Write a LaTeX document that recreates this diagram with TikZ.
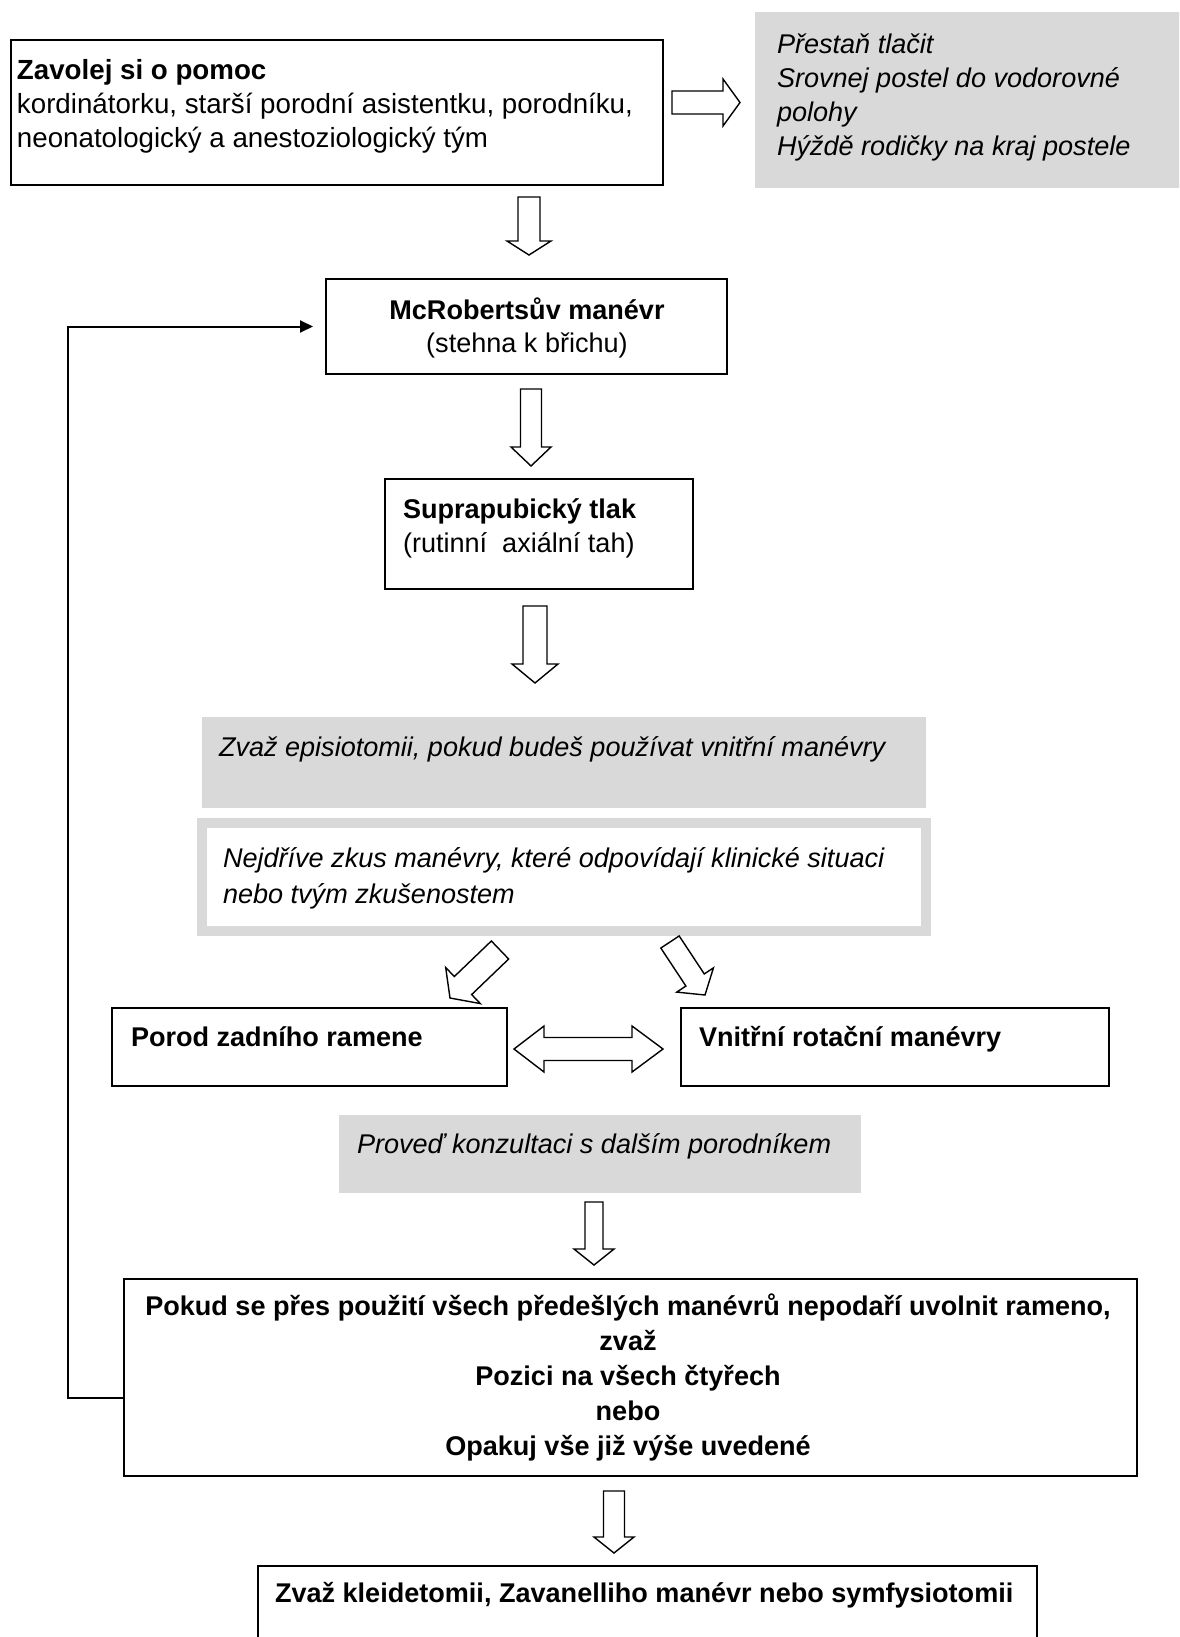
\documentclass[tikz,border=0pt]{standalone}
\usepackage{fontspec}
\setmainfont{Liberation Sans}
\usetikzlibrary{arrows.meta,calc}
\definecolor{shade}{HTML}{D9D9D9}
\tikzset{
  box/.style={draw=black, line width=1pt, fill=white, inner sep=0pt, outer sep=0pt, anchor=north west},
  graybox/.style={fill=shade, draw=none, inner sep=0pt, outer sep=0pt, anchor=north west},
  framebox/.style={draw=shade, line width=5pt, fill=white, inner sep=0pt, outer sep=0pt, anchor=north west},
  txt/.style={inner sep=0pt, outer sep=0pt, anchor=base west},
  ctxt/.style={inner sep=0pt, outer sep=0pt, anchor=base},
  blk/.style={draw=black, line width=0.7pt, fill=white, line join=miter},
  loopline/.style={draw=black, line width=1pt, -{Triangle[length=6.5pt,width=6pt]}},
}
\newcommand\fs{\fontsize{13.53pt}{16.75pt}\selectfont}
\newcommand\blockarrow[6]{%
  \coordinate (#1-a) at #2;
  \coordinate (#1-b) at #3;
  \coordinate (#1-h) at ($(#1-b)!#6!(#1-a)$);
  \draw[blk] ($(#1-a)!#4!90:(#1-b)$) -- ($(#1-h)!#4!90:(#1-b)$) -- ($(#1-h)!#5!90:(#1-b)$)
    -- (#1-b) -- ($(#1-h)!#5!-90:(#1-b)$) -- ($(#1-h)!#4!-90:(#1-b)$) -- ($(#1-a)!#4!-90:(#1-b)$) -- cycle;
}
\begin{document}
\begin{tikzpicture}[x=0.5pt,y=-0.5pt]
\useasboundingbox (0,0) rectangle (1179,1637);
\clip (0,0) rectangle (1179,1637);
\fill[white] (0,0) rectangle (1179,1637);

% boxes
\node[box, minimum width=326pt, minimum height=72.5pt] (b1) at (11,40) {};
\node[graybox, minimum width=217.5pt, minimum height=88pt] (g1) at (755,12) {};
\node[box, minimum width=200.5pt, minimum height=47.5pt] (b2) at (326,279) {};
\node[box, minimum width=154pt, minimum height=55pt] (b3) at (385,479) {};
\node[graybox, minimum width=362pt, minimum height=45.5pt] (g2) at (202,717) {};
\node[framebox, minimum width=361.75pt, minimum height=54pt] (b4) at (202,823) {};
\node[box, minimum width=197.5pt, minimum height=39pt] (b5) at (112,1008) {};
\node[box, minimum width=214pt, minimum height=39pt] (b6) at (681,1008) {};
\node[graybox, minimum width=261pt, minimum height=39pt] (g3) at (339,1115) {};
\node[box, minimum width=506.5pt, minimum height=98.5pt] (b7) at (124,1279) {};
\node[box, minimum width=389.5pt, minimum height=50pt] (b8) at (258,1566) {};

% texts
\node[txt] (t1) at (17,80) {\parbox[t]{320pt}{\fontsize{13.85pt}{17pt}\selectfont\raggedright\textbf{Zavolej si o pomoc}\\
kordinátorku, starší porodní asistentku, porodníku,\\
neonatologický a anestoziologický tým}};
\node[txt] (tg1) at (777,54) {\parbox[t]{210pt}{\fontsize{13.53pt}{17pt}\selectfont\raggedright\itshape Přestaň tlačit\\
Srovnej postel do vodorovné\\ polohy\\ Hýždě rodičky na kraj postele}};
\node[ctxt] (t2) at (527,319) {\parbox[t]{200pt}{\fontsize{13.53pt}{17pt}\selectfont\centering\textbf{McRobertsův manévr}\\
(stehna k břichu)}};
\node[txt] (t3) at (403,518) {\parbox[t]{150pt}{\fontsize{13.53pt}{17pt}\selectfont\raggedright\textbf{Suprapubický tlak}\\
(rutinní~ axiální tah)}};
\node[txt] (tg2) at (219,756) {\fs\itshape Zvaž episiotomii, pokud budeš používat vnitřní manévry};
\node[txt] (t4) at (223,867) {\parbox[t]{350pt}{\fontsize{13.53pt}{18pt}\selectfont\raggedright\itshape Nejdříve zkus manévry, které odpovídají klinické situaci\\
nebo tvým zkušenostem}};
\node[txt] (t5) at (131,1046) {\fs\bfseries Porod zadního ramene};
\node[txt] (t6) at (699,1046) {\fs\bfseries Vnitřní rotační manévry};
\node[txt] (tg3) at (357,1153) {\fs\itshape Proveď konzultaci s dalším porodníkem};
\node[ctxt] (t7) at (628,1315) {\parbox[t]{500pt}{\fontsize{13.53pt}{17.6pt}\selectfont\centering\bfseries
Pokud se přes použití všech předešlých manévrů nepodaří uvolnit rameno,\\ zvaž\\ Pozici na všech čtyřech\\ nebo\\ Opakuj vše již výše uvedené}};
\node[txt] (t8) at (275,1602) {\fs\bfseries Zvaž kleidetomii, Zavanelliho manévr nebo symfysiotomii};

% block arrows
\blockarrow{ar}{(672,102.5)}{(740,102.5)}{5.75pt}{11.75pt}{8.5pt}
\blockarrow{a1}{(529,197)}{(529,255)}{5.5pt}{11pt}{7pt}
\blockarrow{a2}{(531,389)}{(531,466)}{5.25pt}{10pt}{9.5pt}
\blockarrow{a3}{(535,606)}{(535,683)}{6pt}{11.5pt}{9.5pt}
\blockarrow{dl}{(500,950)}{(450,998)}{6.25pt}{12.5pt}{9pt}
\blockarrow{dr}{(670,942)}{(705,995)}{5.5pt}{11pt}{9pt}
\blockarrow{a4}{(594,1202)}{(594,1265)}{4.5pt}{10pt}{8pt}
\blockarrow{a5}{(614,1491)}{(614,1553)}{5.25pt}{10pt}{8pt}

% double arrow between b5 and b6
\coordinate (da-l) at (514,1049);
\coordinate (da-r) at (663,1049);
\draw[blk] (da-l) -- ++(30,-23) -- ++(0,11.5) -- ++(88,0) -- ++(0,-11.5) -- (da-r)
  -- ++(-31,23) -- ++(0,-11.5) -- ++(-88,0) -- ++(0,11.5) -- cycle;

% loop connector
\draw[loopline] ([yshift=-10.25pt]b7.west) -- ++(-56,0) |- ([xshift=-6.5pt]b2.west);
\end{tikzpicture}
\end{document}
